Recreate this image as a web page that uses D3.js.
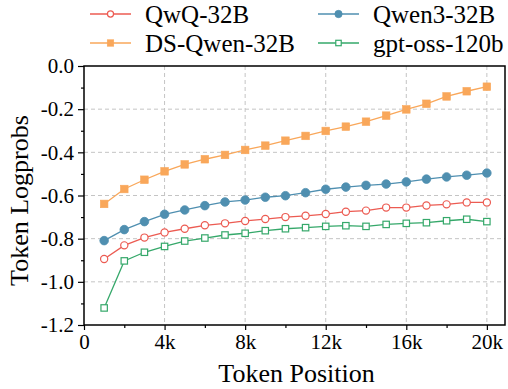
<!DOCTYPE html>
<html>
<head>
<meta charset="utf-8">
<script src="https://cdn.jsdelivr.net/npm/d3@7"></script>
<style>
  html, body { margin: 0; padding: 0; background: #fff; }
  svg { display: block; }
  svg text { font-family: "Liberation Serif", "DejaVu Serif", serif !important; }
</style>
</head>
<body>
<svg id="chart" width="508" height="389"></svg>
<script>
// Token positions (in tokens) at which mean logprobs were measured
const positions = [1000, 2000, 3000, 4000, 5000, 6000, 7000, 8000, 9000, 10000,
                   11000, 12000, 13000, 14000, 15000, 16000, 17000, 18000, 19000, 20000];

const qwqValues = [-0.894, -0.831, -0.795, -0.771, -0.754, -0.738, -0.729, -0.718, -0.709, -0.700,
                   -0.694, -0.686, -0.675, -0.670, -0.656, -0.656, -0.646, -0.641, -0.632, -0.632];
const dsQwenValues = [-0.639, -0.570, -0.527, -0.488, -0.456, -0.432, -0.412, -0.389, -0.369, -0.346,
                      -0.324, -0.301, -0.281, -0.258, -0.230, -0.201, -0.175, -0.141, -0.117, -0.096];
const qwen3Values = [-0.809, -0.758, -0.721, -0.687, -0.667, -0.647, -0.630, -0.621, -0.608, -0.601,
                     -0.587, -0.571, -0.561, -0.553, -0.547, -0.537, -0.524, -0.514, -0.506, -0.496];
const gptOssValues = [-1.121, -0.903, -0.863, -0.836, -0.811, -0.797, -0.783, -0.775, -0.763, -0.754,
                      -0.749, -0.743, -0.740, -0.743, -0.734, -0.729, -0.726, -0.717, -0.710, -0.721];

const xTicks = [0, 4000, 8000, 12000, 16000, 20000];
const xTickLabels = ["0", "4k", "8k", "12k", "16k", "20k"];
const yTicks = [0, -0.2, -0.4, -0.6, -0.8, -1.0, -1.2];

const series = [
  { name: "QwQ-32B",      values: qwqValues,    color: "#ec5b52", marker: "circle", filled: false },
  { name: "Qwen3-32B",    values: qwen3Values,  color: "#4f8fb0", marker: "circle", filled: true },
  { name: "DS-Qwen-32B",  values: dsQwenValues, color: "#f9a75a", marker: "square", filled: true },
  { name: "gpt-oss-120b", values: gptOssValues, color: "#35a86a", marker: "square", filled: false }
];

const FONT = "Liberation Serif";
const svg = d3.select("#chart");
const margin = { left: 84, top: 66, right: 3, bottom: 64 };
const W = 508 - margin.left - margin.right;
const H = 389 - margin.top - margin.bottom;

const x = d3.scaleLinear().domain([0, 20900]).range([0, W]);
const y = d3.scaleLinear().domain([-1.2, 0]).range([H, 0]);

const g = svg.append("g").attr("transform", `translate(${margin.left},${margin.top})`);

// dashed grid
g.append("g").selectAll("line").data(xTicks.filter(d => d > 0)).join("line")
  .attr("x1", d => x(d)).attr("x2", d => x(d)).attr("y1", 0).attr("y2", H)
  .attr("stroke", "#c4c4c4").attr("stroke-width", 1).attr("stroke-dasharray", "4,3");
g.append("g").selectAll("line").data(yTicks.filter(d => d < 0 && d > -1.2)).join("line")
  .attr("y1", d => y(d)).attr("y2", d => y(d)).attr("x1", 0).attr("x2", W)
  .attr("stroke", "#c4c4c4").attr("stroke-width", 1).attr("stroke-dasharray", "4,3");

// axes
const xAxis = d3.axisBottom(x).tickValues(xTicks).tickFormat((d, i) => xTickLabels[i])
  .tickSize(5).tickPadding(4);
const xMinor = d3.axisBottom(x).tickValues([2000, 6000, 10000, 14000, 18000]).tickFormat("").tickSize(3);
const yAxis = d3.axisLeft(y).tickValues(yTicks).tickFormat(d => d3.format(".1f")(d).replace("−", "-"))
  .tickSize(6).tickPadding(4);
const yMinor = d3.axisLeft(y).tickValues([-0.1, -0.3, -0.5, -0.7, -0.9, -1.1]).tickFormat("").tickSize(3);

function styleAxis(sel) {
  sel.attr("font-family", FONT).attr("font-size", 21);
  sel.select(".domain").remove();
  sel.selectAll(".tick line").attr("stroke", "#000").attr("stroke-width", 1.2);
  sel.selectAll("text").attr("fill", "#000");
}
g.append("g").attr("transform", `translate(0,${H})`).call(xAxis).call(styleAxis)
  .selectAll("text").attr("dy", "0.71em");
g.append("g").attr("transform", `translate(0,${H})`).call(xMinor).call(styleAxis);
g.append("g").call(yAxis).call(styleAxis)
  .selectAll("text").attr("dy", "0.32em");
g.append("g").call(yMinor).call(styleAxis);

// frame
g.append("rect").attr("x", 0).attr("y", 0).attr("width", W).attr("height", H)
  .attr("fill", "none").attr("stroke", "#000").attr("stroke-width", 1.5);

// series lines + markers
const line = d3.line().x((d, i) => x(positions[i])).y(d => y(d));

function drawMarker(sel, s, cx, cy, scale = 1) {
  const fill = s.filled ? s.color : "#fff";
  if (s.marker === "circle") {
    sel.append("circle").attr("cx", cx).attr("cy", cy)
      .attr("r", (s.filled ? 4.3 : 3.6) * scale)
      .attr("fill", fill).attr("stroke", s.color).attr("stroke-width", s.filled ? 0.8 : 1.2);
  } else {
    const sz = (s.filled ? 7.6 : 6.4) * scale;
    sel.append("rect").attr("x", cx - sz / 2).attr("y", cy - sz / 2)
      .attr("width", sz).attr("height", sz)
      .attr("fill", fill).attr("stroke", s.color).attr("stroke-width", s.filled ? 0.6 : 1.2);
  }
}

const drawOrder = [series[2], series[1], series[0], series[3]];
drawOrder.forEach(s => {
  const sg = g.append("g");
  sg.append("path").datum(s.values).attr("d", line)
    .attr("fill", "none").attr("stroke", s.color).attr("stroke-width", 1.3);
  s.values.forEach((v, i) => drawMarker(sg, s, x(positions[i]), y(v)));
});

// axis titles
svg.append("text").attr("x", margin.left + x(20900) / 2 + 2).attr("y", 382)
  .attr("text-anchor", "middle").attr("font-family", FONT).attr("font-size", 26).attr("fill", "#000")
  .text("Token Position");
svg.append("text").attr("transform", `translate(28,${margin.top + H / 2 + 5}) rotate(-90)`)
  .attr("text-anchor", "middle").attr("font-family", FONT).attr("font-size", 26).attr("fill", "#000")
  .text("Token Logprobs");

// legend (two columns, two rows)
const legendItems = [
  { s: series[0], x: 90,  y: 14 },
  { s: series[1], x: 318, y: 14 },
  { s: series[2], x: 90,  y: 43 },
  { s: series[3], x: 318, y: 43 }
];
legendItems.forEach(({ s, x: lx, y: ly }) => {
  const lg = svg.append("g");
  lg.append("line").attr("x1", lx).attr("x2", lx + 41).attr("y1", ly).attr("y2", ly)
    .attr("stroke", s.color).attr("stroke-width", 1.3);
  drawMarker(lg, s, lx + 20.5, ly, 0.85);
  lg.append("text").attr("x", lx + 55).attr("y", ly + 9)
    .attr("font-family", FONT).attr("font-size", 25).attr("fill", "#000").text(s.name);
});
</script>
</body>
</html>
